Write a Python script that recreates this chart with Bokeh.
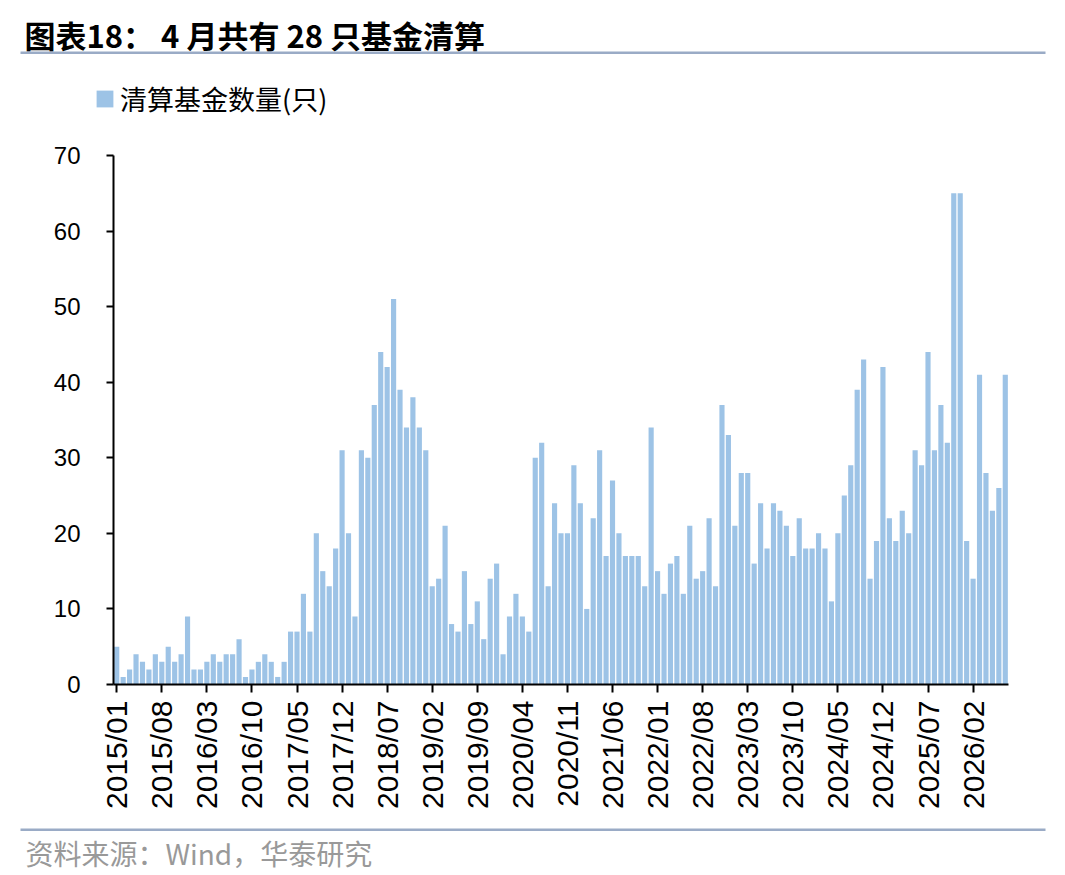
import numpy as np
from bokeh.plotting import figure
from bokeh.models import ColumnDataSource, Range1d, FixedTicker, Label, BoxAnnotation
from bokeh.embed import file_html
from bokeh.resources import INLINE

# ---------------- data ----------------
title_text = "图表18： 4 月共有 28 只基金清算"
series_name = "清算基金数量(只)"
source_text = "资料来源：Wind，华泰研究"

start_year, start_month = 2015, 1
counts = [
    5, 1, 2, 4, 3, 2, 4, 3, 5, 3, 4, 9, 2, 2, 3, 4, 3, 4, 4, 6,
    1, 2, 3, 4, 3, 1, 3, 7, 7, 12, 7, 20, 15, 13, 18,
    31, 20, 9, 31, 30, 37, 44, 42, 51, 39, 34, 38, 34, 31, 13, 14, 21, 8, 7,
    15, 8, 11, 6, 14, 16, 4, 9, 12, 9, 7, 30, 32, 13, 24, 20, 20, 29, 24, 10,
    22, 31, 17, 27, 20,
    17, 17, 17, 13, 34, 15, 12, 16, 17, 12, 21, 14, 15, 22, 13, 37, 33, 21,
    28, 28, 16, 24, 18, 24, 23,
    21, 17, 22, 18, 18, 20, 18, 11, 20, 25, 29, 39, 43, 14, 19, 42, 22, 19,
    23, 20,
    31, 29, 44, 31, 37, 32, 65, 65, 19, 14, 41, 28, 23, 26, 41,
]
months = []
for i in range(len(counts)):
    yy = start_year + (start_month - 1 + i) // 12
    mm = (start_month - 1 + i) % 12 + 1
    months.append(f"{yy}/{mm:02d}")

tick_labels = ["2015/01", "2015/08", "2016/03", "2016/10", "2017/05", "2017/12",
               "2018/07", "2019/02", "2019/09", "2020/04", "2020/11", "2021/06",
               "2022/01", "2022/08", "2023/03", "2023/10", "2024/05", "2024/12",
               "2025/07", "2026/02"]
y_ticks = [0, 10, 20, 30, 40, 50, 60, 70]

# ---------------- layout (pixels on the page) ----------------
W, H = 1065, 875
PLOT_L, PLOT_R = 113, 1008      # horizontal extent of the category band
Y0_PX, YMAX_PX = 684, 155       # vertical pixel of y=0 and y=max tick
BAR_COLOR = "#9dc3e6"
RULE_COLOR = "#9aabc6"
CJK = "Noto Sans CJK SC"
LAT = "Liberation Sans"

n = len(counts)
y_max = y_ticks[-1]
ux = (PLOT_R - PLOT_L) / n
x_start = -0.5 - PLOT_L / ux
x_end = x_start + W / ux
uy = (Y0_PX - YMAX_PX) / y_max
y_end = y_max + YMAX_PX / uy
y_start = y_end - H / uy

p = figure(width=W, height=H, x_range=Range1d(x_start, x_end),
           y_range=Range1d(y_start, y_end), output_backend="svg",
           toolbar_location=None, min_border=0)
p.grid.visible = False
p.outline_line_color = None
p.background_fill_color = "white"
p.border_fill_color = "white"

src = ColumnDataSource(dict(x=list(range(n)), month=months, count=counts))
p.vbar(x="x", top="count", width=0.8, source=src, fill_color=BAR_COLOR,
       line_color=None, legend_label=series_name)

# axes (real Bokeh axes, pinned to the data origin)
tick_pos = [months.index(t) for t in tick_labels]
p.xaxis.fixed_location = 0
p.xaxis.bounds = (-0.5, n - 0.5)
p.xaxis.ticker = FixedTicker(ticks=tick_pos)
p.xaxis.major_label_overrides = {pos: lab for pos, lab in zip(tick_pos, tick_labels)}
p.xaxis.major_label_orientation = np.pi / 2
p.xaxis.major_label_text_font = LAT
p.xaxis.major_label_text_font_size = "30px"
p.xaxis.major_label_standoff = 8
p.xaxis.major_tick_out = 8
p.xaxis.major_tick_in = 0

p.yaxis.fixed_location = -0.5
p.yaxis.bounds = (0, y_max)
p.yaxis.ticker = FixedTicker(ticks=y_ticks)
p.yaxis.major_label_text_font = LAT
p.yaxis.major_label_text_font_size = "24px"
p.yaxis.major_label_standoff = 26
p.yaxis.major_tick_out = 7
p.yaxis.major_tick_in = 0

for ax in (p.xaxis, p.yaxis):
    ax.axis_line_width = 2
    ax.axis_line_color = "black"
    ax.major_tick_line_width = 2
    ax.major_tick_line_color = "black"
    ax.minor_tick_line_color = None
    ax.major_label_text_color = "black"

# legend (area legend glyphs are drawn at 80% of the glyph box)
lg = p.legend[0]
lg.location = (94, H - 118)
lg.glyph_width = 21
lg.glyph_height = 21
lg.label_standoff = 5
lg.label_text_font = CJK
lg.label_text_font_size = "27px"
lg.label_text_color = "black"
lg.border_line_color = None
lg.background_fill_alpha = 0
lg.padding = 0
lg.margin = 0

# title, rules and source note
p.add_layout(Label(x=24, y=H - 34, x_units="screen", y_units="screen", text=title_text,
                   text_font=CJK, text_font_style="bold", text_font_size="31px",
                   text_baseline="middle", text_align="left", text_color="black"))
p.add_layout(BoxAnnotation(left=20, right=1045, top=H - 51, bottom=H - 53.5,
                           left_units="screen", right_units="screen",
                           top_units="screen", bottom_units="screen",
                           fill_color=RULE_COLOR, fill_alpha=1, line_color=None))
p.add_layout(BoxAnnotation(left=20, right=1045, top=H - 828, bottom=H - 830.5,
                           left_units="screen", right_units="screen",
                           top_units="screen", bottom_units="screen",
                           fill_color=RULE_COLOR, fill_alpha=1, line_color=None))
p.add_layout(Label(x=25, y=H - 852, x_units="screen", y_units="screen", text=source_text,
                   text_font=CJK, text_font_size="28px",
                   text_baseline="middle", text_align="left", text_color="#999999"))

open("out.html", "w").write(file_html(p, INLINE))
